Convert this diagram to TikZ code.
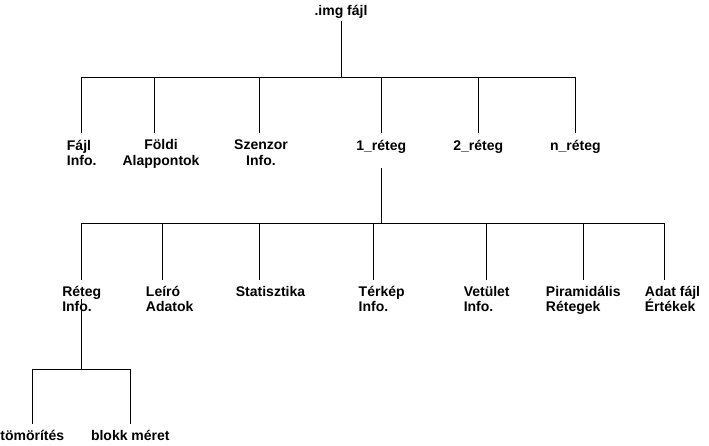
\documentclass[tikz,border=0pt]{standalone}
\usepackage{fontspec}
\setmainfont{Liberation Sans}
\definecolor{treecolor0000}{RGB}{0,0,0}
\definecolor{treecolor0001}{RGB}{255,255,255}

\begin{document}
\begin{tikzpicture}[yscale=-1
,pstyle0/.style={color=treecolor0000,line width=1pt}
,pstyle1/.style={color=treecolor0000,inner sep=0pt,outer sep=6.5pt,font=\bfseries\fontsize{14pt}{15.5pt}\selectfont}
,pstyle2/.style={pstyle1,anchor=north,align=left}
,pstyle3/.style={pstyle1,anchor=north,align=center}
]
\fill[treecolor0001] (0pt,0pt) rectangle (709pt,445pt);
\node (img) at (341pt,15pt)[pstyle1,anchor=base]{.img fájl};
\node (fajl) at (81.7pt,133.3pt)[pstyle2]{Fájl\\Info.};
\node (foldi) at (161pt,133.3pt)[pstyle3]{Földi\\Alappontok};
\node (szenz) at (261pt,133.3pt)[pstyle3]{Szenzor\\Info.};
\node (ret1) at (381.3pt,133.3pt)[pstyle2]{1\_réteg};
\node (ret2) at (478.3pt,133.3pt)[pstyle2]{2\_réteg};
\node (retn) at (575.3pt,133.3pt)[pstyle2]{n\_réteg};
\node (rinfo) at (81.7pt,279.5pt)[pstyle2]{Réteg\\Info.};
\node (leiro) at (169.7pt,279.5pt)[pstyle2]{Leíró\\Adatok};
\node (stat) at (270.5pt,279.5pt)[pstyle2]{Statisztika};
\node (terkep) at (381.7pt,279.5pt)[pstyle2]{Térkép\\Info.};
\node (vetul) at (486.7pt,279.5pt)[pstyle2]{Vetület\\Info.};
\node (piram) at (583.3pt,279.5pt)[pstyle2]{Piramidális\\Rétegek};
\node (adat) at (672.5pt,279.5pt)[pstyle2]{Adat fájl\\Értékek};
\node (tomor) at (32.3pt,424pt)[pstyle2]{tömörítés};
\node (blokk) at (130.3pt,424pt)[pstyle2]{blokk méret};
\coordinate (bus1) at (341pt,77pt);
\coordinate (bus2) at (381.3pt,223.3pt);
\coordinate (bus3) at (81.7pt,369.3pt);
\draw[pstyle0] (img.south) ++(0pt,-3pt) -- (bus1);
\draw[pstyle0] (bus1) -| (fajl.north);
\draw[pstyle0] (bus1) -| ([xshift=-7pt]foldi.north);
\draw[pstyle0] (bus1) -| ([xshift=-1.7pt]szenz.north);
\draw[pstyle0] (bus1) -| (ret1.north);
\draw[pstyle0] (bus1) -| (ret2.north);
\draw[pstyle0] (bus1) -| (retn.north);
\draw[pstyle0] (ret1.south) ++(0pt,8pt) -- (bus2);
\draw[pstyle0] (bus2) -| (rinfo.north);
\draw[pstyle0] (bus2) -| ([xshift=-7.4pt]leiro.north);
\draw[pstyle0] (bus2) -| ([xshift=-11.2pt]stat.north);
\draw[pstyle0] (bus2) -| ([xshift=-8.4pt]terkep.north);
\draw[pstyle0] (bus2) -| (vetul.north);
\draw[pstyle0] (bus2) -| (piram.north);
\draw[pstyle0] (bus2) -| ([xshift=-8.2pt]adat.north);
\draw[pstyle0] (rinfo.center) -- (bus3);
\draw[pstyle0] (bus3) -| (tomor.north);
\draw[pstyle0] (bus3) -| (blokk.north);
\useasboundingbox (0pt,0pt) rectangle (709pt,445pt);
\end{tikzpicture}
\end{document}
